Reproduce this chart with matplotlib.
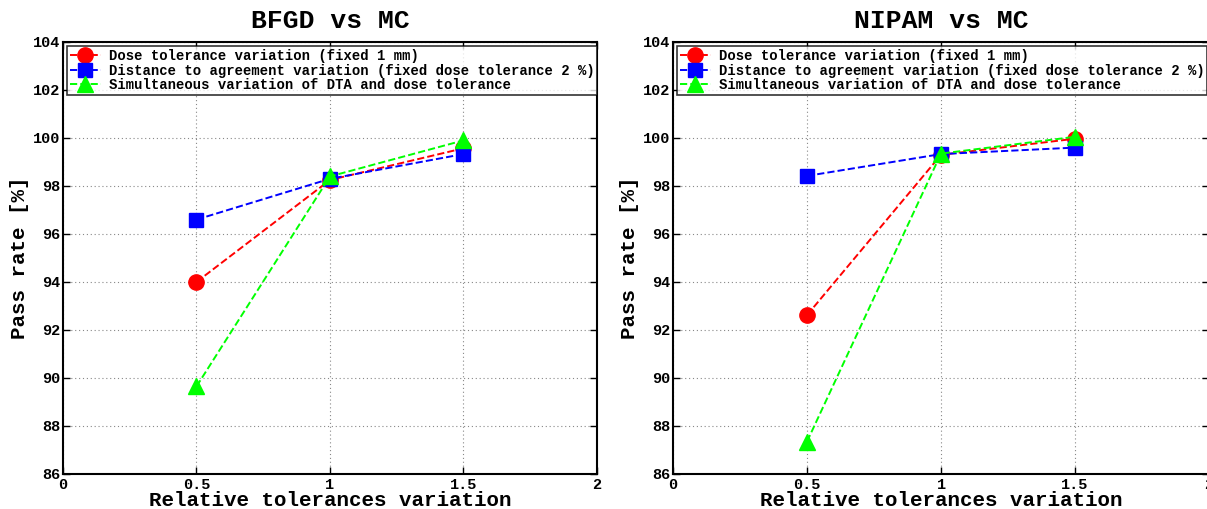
import matplotlib
matplotlib.use("Agg")
import matplotlib.pyplot as plt

x_vals = [0.5, 1.0, 1.5]
titles = ["BFGD vs MC", "NIPAM vs MC"]
series_labels = [
    "Dose tolerance variation (fixed 1 mm)",
    "Distance to agreement variation (fixed dose tolerance 2 %)",
    "Simultaneous variation of DTA and dose tolerance",
]
bfgd_dose = [94.0, 98.25, 99.57]
bfgd_dta = [96.6, 98.3, 99.33]
bfgd_sim = [89.65, 98.4, 99.9]
nipam_dose = [92.62, 99.3, 99.97]
nipam_dta = [98.42, 99.33, 99.6]
nipam_sim = [87.35, 99.35, 100.05]
x_ticks = [0, 0.5, 1, 1.5, 2]
x_ticklabels = ["0", "0.5", "1", "1.5", "2"]
y_ticks = [86, 88, 90, 92, 94, 96, 98, 100, 102, 104]

styles = [
    dict(color="#ff0000", marker="o", markersize=11),
    dict(color="#0000ff", marker="s", markersize=10),
    dict(color="#00ff00", marker="^", markersize=12),
]

FONT = "Liberation Mono"
fig = plt.figure(figsize=(12.07, 5.09), dpi=100)
axes_pos = [[0.0522, 0.0688, 0.4424, 0.8487], [0.5576, 0.0688, 0.4441, 0.8487]]
data = [[bfgd_dose, bfgd_dta, bfgd_sim], [nipam_dose, nipam_dta, nipam_sim]]

for pos, title, ds in zip(axes_pos, titles, data):
    ax = fig.add_axes(pos)
    for vals, st, lab in zip(ds, styles, series_labels):
        ax.plot(x_vals, vals, linestyle="--", linewidth=1.4, label=lab,
                markeredgecolor=st["color"], **st)
    ax.set_xlim(0, 2)
    ax.set_ylim(86, 104)
    ax.set_xticks(x_ticks)
    ax.set_xticklabels(x_ticklabels)
    ax.set_yticks(y_ticks)
    ax.grid(True, linestyle=(0, (1, 2.5)), color="#888888", linewidth=0.8)
    ax.tick_params(direction="in", top=True, right=True, length=5, width=1)
    ax.tick_params(axis="x", pad=3)
    ax.tick_params(axis="y", pad=2)
    for lbl in ax.get_xticklabels() + ax.get_yticklabels():
        lbl.set_fontfamily(FONT)
        lbl.set_fontweight("bold")
        lbl.set_fontsize(11)
    for sp in ax.spines.values():
        sp.set_linewidth(1.5)
    ax.set_title(title, fontfamily=FONT, fontweight="bold", fontsize=19, pad=10)
    ax.set_xlabel("Relative tolerances variation", fontfamily=FONT,
                  fontweight="bold", fontsize=15, labelpad=-1)
    ax.set_ylabel("Pass rate [%]", fontfamily=FONT, fontweight="bold",
                  fontsize=15, labelpad=3)
    leg = ax.legend(loc="upper left", prop=dict(family=FONT, weight="bold", size=10),
                    frameon=True, fancybox=False, edgecolor="black",
                    borderaxespad=0.3, handlelength=2.2, handletextpad=0.6,
                    labelspacing=0.05, borderpad=0.2)
    leg.get_frame().set_linewidth(1.2)

fig.savefig("out.png", dpi=100)
